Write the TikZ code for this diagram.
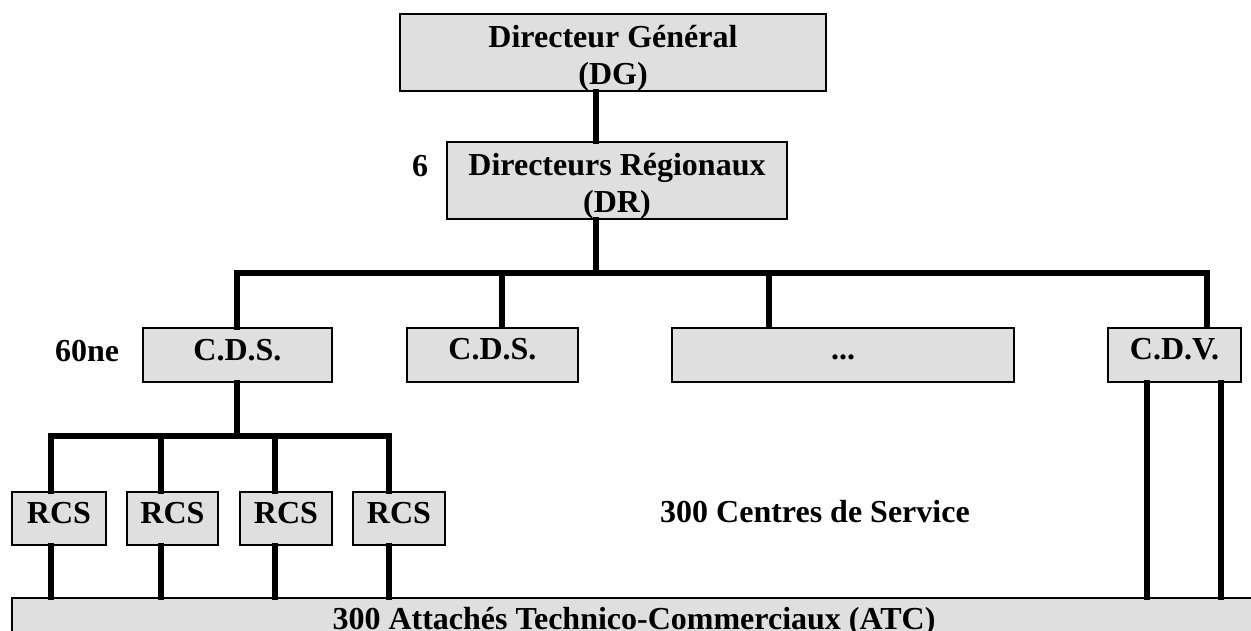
\documentclass[tikz,border=0pt]{standalone}
\usepackage{fontspec}
\setmainfont{Liberation Serif}
\newcommand{\topgap}{\rule{0pt}{1.03em}}

\begin{document}
\begin{tikzpicture}[x=1pt,y=-1pt,
	every node/.style={font=\fontsize{32}{37}\selectfont\bfseries},
	box/.style={draw,line width=2pt,fill=gray!25,inner sep=0pt},
	twobox/.style={box,align=center,minimum height=75},
	onebox/.style={box,text height=21pt,text depth=11pt},
	link/.style={line width=5.5pt,line cap=rect}]
				\useasboundingbox (0,0) rectangle (1251,631);
				\node[twobox,minimum width=426] (DG) at (613,52.5) {\topgap Directeur Général\\(DG)};
				\node[twobox,minimum width=340] (DR) at (617,180.5) {\topgap Directeurs Régionaux\\(DR)};
				\node (nDR) at (420,166) {6};
				\node[onebox,minimum width=189,minimum height=54] (cdsA) at (237.5,355) {C.D.S.};
				\node[onebox,minimum width=171,minimum height=54] (cdsB) at (492.5,354.5) {C.D.S.};
				\node[onebox,minimum width=342,minimum height=54] (dots) at (843,354.5) {...};
				\node[onebox,minimum width=133,minimum height=54] (cdv) at (1174.5,354.5) {C.D.V.};
				\node (nCDS) at (87,351) {60ne};
				\foreach \i/\x/\w in {1/59/94,2/172.5/91,3/286/92,4/399/92}
				\node[onebox,text depth=12pt,minimum width=\w,minimum height=53] (rcs\i) at (\x,518.5) {RCS};
				\node (nCS) at (815,512) {300 Centres de Service};
				\node[box,minimum width=1244,minimum height=48] (atc) at (634,622) {300 Attachés Technico-Commerciaux (ATC)};
				\coordinate (trunk) at (596,273);
				\draw[link] (DG.south -| trunk) -- (DR.north -| trunk);
				\draw[link] (DR.south -| trunk) -- (trunk);
				\coordinate (bA) at (237,273);
				\coordinate (bB) at (502,273);
				\coordinate (bC) at (769,273);
				\coordinate (bD) at (1207,273);
				\draw[link] (bA) -- (bD);
				\draw[link] (bA) -- (bA |- cdsA.north);
				\draw[link] (bB) -- (bB |- cdsB.north);
				\draw[link] (bC) -- (bC |- dots.north);
				\draw[link] (bD) -- (bD |- cdv.north);
				\foreach \i/\x in {1/51,2/161,3/275,4/389}{
					\coordinate (rb\i) at (\x,436);
					\draw[link] (rb\i) -- (rb\i |- rcs\i.north);
					\draw[link] (rb\i |- rcs\i.south) -- (rb\i |- atc.north);
				}
				\draw[link] (rb1) -- (rb4);
				\draw[link] (cdsA.south -| bA) -- (bA |- rb1);
				\coordinate (vA) at (1147,381);
				\coordinate (vB) at (1221,381);
				\draw[link] (vA |- cdv.south) -- (vA |- atc.north);
				\draw[link] (vB |- cdv.south) -- (vB |- atc.north);
			\end{tikzpicture}
\end{document}
